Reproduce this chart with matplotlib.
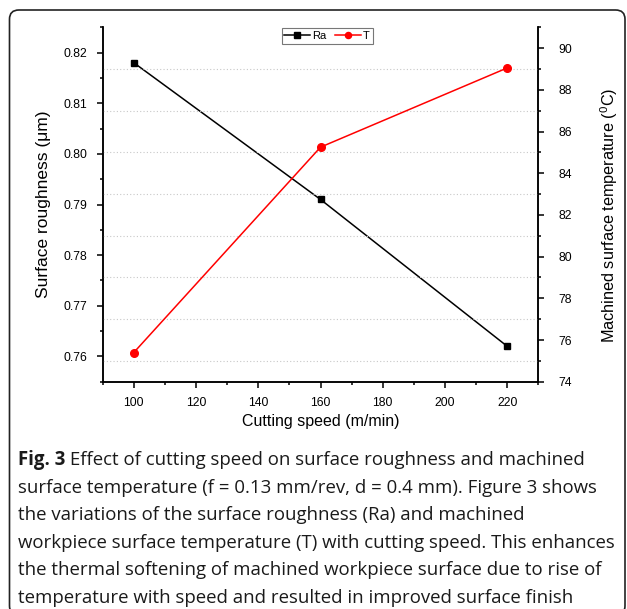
import numpy as np
import matplotlib.pyplot as plt
from matplotlib.patches import FancyBboxPatch
from matplotlib.ticker import MultipleLocator

plt.rcParams["font.family"] = ["Liberation Sans", "DejaVu Sans"]
plt.rcParams["mathtext.fontset"] = "custom"
plt.rcParams["mathtext.rm"] = "Liberation Sans"
plt.rcParams["mathtext.default"] = "regular"

# data
speed = [100, 160, 220]
ra = [0.818, 0.791, 0.762]
temp = [75.4, 85.25, 89.05]

caption_first = " Effect of cutting speed on surface roughness and machined"
caption_lines = [
    "surface temperature (f = 0.13 mm/rev, d = 0.4 mm). Figure 3 shows",
    "the variations of the surface roughness (Ra) and machined",
    "workpiece surface temperature (T) with cutting speed. This enhances",
    "the thermal softening of machined workpiece surface due to rise of",
    "temperature with speed and resulted in improved surface finish",
]

W, H = 627, 609
fig = plt.figure(figsize=(W / 100, H / 100), dpi=100)

# rounded frame around the figure (bottom edge sits just off the picture)
frame = FancyBboxPatch((9.5 / W, -6 / H), (625 - 9.5) / W, (599 + 6) / H,
                       boxstyle="round,pad=0,rounding_size=0.015",
                       transform=fig.transFigure, fill=False,
                       edgecolor="#222222", linewidth=1.2)
fig.patches.append(frame)

ax = fig.add_axes([102.7 / W, 1 - 381.7 / H, 435.6 / W, 354.4 / H])
ax2 = ax.twinx()

# faint dotted grid on odd temperature values
for v in np.arange(75, 91, 2):
    ax2.axhline(v, color="#c8c8c8", linestyle=(0, (1, 2)), linewidth=0.8, zorder=0)

l1, = ax.plot(speed, ra, color="black", marker="s", markersize=5, linewidth=1.1, label="Ra")
l2, = ax2.plot(speed, temp, color="red", marker="o", markersize=5.5, linewidth=1.1, label="T")

ax.set_xlim(90, 230)
ax.set_ylim(0.755, 0.825)
ax2.set_ylim(74, 91)

ax.xaxis.set_major_locator(MultipleLocator(20))
ax.xaxis.set_minor_locator(MultipleLocator(10))
ax.yaxis.set_major_locator(MultipleLocator(0.01))
ax.yaxis.set_minor_locator(MultipleLocator(0.005))
ax2.yaxis.set_major_locator(MultipleLocator(2))
ax2.yaxis.set_minor_locator(MultipleLocator(1))
ax.yaxis.set_major_formatter(plt.FormatStrFormatter("%.2f"))

for a in (ax, ax2):
    a.spines["top"].set_visible(False)
    for s in a.spines.values():
        s.set_linewidth(1.1)
    a.tick_params(which="major", direction="out", length=4.3, width=1.1, labelsize=8.7)
    a.tick_params(which="minor", direction="out", length=2.5, width=1.1)
ax.tick_params(axis="x", pad=6.5)
ax.tick_params(axis="y", pad=7)
ax2.tick_params(axis="y", pad=10)

ax.set_xlabel("Cutting speed (m/min)", fontsize=11.5, labelpad=4)
ax.set_ylabel("Surface roughness (μm)", fontsize=12.5, labelpad=9)
ax2.set_ylabel("Machined surface temperature ($^0$C)", fontsize=11.7)
ax2.yaxis.set_label_coords((598 - 102.7) / 435.6, 0.47)

leg = ax.legend([l1, l2], ["Ra", "T"], loc="upper center", bbox_to_anchor=(0.515, 1.0),
                ncol=2, fontsize=8, frameon=True, fancybox=False, handlelength=2.3,
                handletextpad=0.2, columnspacing=0.8, borderpad=0.25, markerscale=0.8,
                borderaxespad=0.1)
leg.get_frame().set_edgecolor("#555555")
leg.get_frame().set_linewidth(0.8)

# caption
cap_font = ["Open Sans", "DejaVu Sans"]
cap_size = 13.4
x0 = 18 / W
y0 = 1 - 460 / H
step = 27.6 / H
t = fig.text(x0, y0, "Fig. 3", fontsize=cap_size, fontweight="bold", family=cap_font,
             va="center", color="#1a1a1a")
fig.canvas.draw()
bb = t.get_window_extent()
fig.text(bb.x1 / W, y0, caption_first, fontsize=cap_size, family=cap_font,
         va="center", color="#1a1a1a")
for i, line in enumerate(caption_lines):
    fig.text(x0, y0 - (i + 1) * step, line, fontsize=cap_size, family=cap_font,
             va="center", color="#1a1a1a")

fig.savefig("out.png", dpi=100)
